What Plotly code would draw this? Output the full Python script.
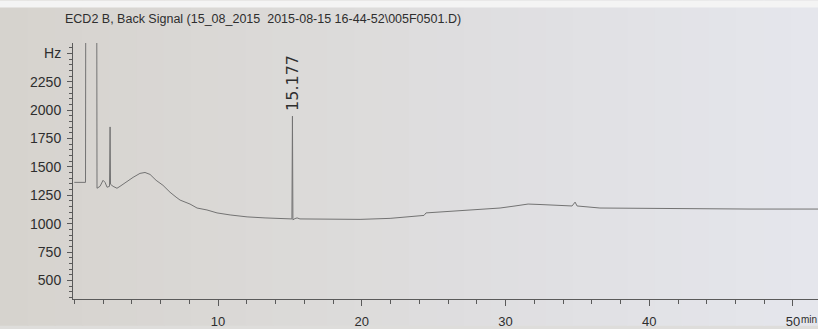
import plotly.graph_objects as go

# ECD2 B back signal trace (retention time in minutes, detector signal in Hz)
time_min = [
    0.0, 0.78, 0.80, 1.56, 1.58, 1.79, 2.00, 2.14, 2.28, 2.45, 2.49, 2.52,
    2.70, 2.97, 3.18, 3.67, 4.09, 4.57, 4.92, 5.27, 5.69, 6.17, 6.66, 7.08,
    7.36, 8.05, 8.54, 9.23, 9.93, 10.84, 12.02, 13.27, 14.80, 15.14, 15.177,
    15.21, 15.35, 15.50, 15.70, 17.79, 19.88, 21.97, 23.36, 24.33, 24.47,
    25.45, 26.84, 28.23, 29.62, 30.66, 31.57, 32.40, 33.80, 34.63, 34.84,
    34.98, 36.57, 40.05, 43.53, 47.01, 51.74,
]
signal_hz = [
    1364, 1364, 3200, 3200, 1312, 1329, 1382, 1364, 1321, 1329, 1852, 1347,
    1329, 1312, 1329, 1373, 1408, 1443, 1451, 1434, 1382, 1338, 1277, 1234,
    1208, 1173, 1138, 1121, 1095, 1077, 1060, 1051, 1042, 1042, 1947,
    1034, 1045, 1051, 1042, 1042, 1038, 1047, 1064, 1073, 1095,
    1103, 1116, 1125, 1138, 1156, 1173, 1169, 1164, 1156, 1190,
    1156, 1138, 1134, 1134, 1129, 1129,
]

# Axis ticks
y_tick_vals = [500, 750, 1000, 1250, 1500, 1750, 2000, 2250, 2500]
y_tick_text = ["500", "750", "1000", "1250", "1500", "1750", "2000", "2250", "Hz"]
x_tick_vals = [10, 20, 30, 40, 50]
x_tick_text = ["10", "20", "30", "40", "50"]

# Labelled peak
peak_rt = 15.177
peak_label = "15.177"
peak_label_y = 2243

title_text = "ECD2 B, Back Signal (15_08_2015  2015-08-15 16-44-52\\005F0501.D)"

SANS = "Liberation Sans, Arial, sans-serif"
INK = "#2e2e2e"
AXIS = "#5a5a5a"

fig = go.Figure()
fig.add_trace(go.Scatter(
    x=time_min, y=signal_hz, mode="lines",
    line=dict(color="#737373", width=1),
    hoverinfo="skip", showlegend=False,
))

# paper tone: warm grey on the left fading to a cool light grey on the right
left_rgb = (214, 211, 206)
right_rgb = (229, 230, 236)
n_bands = 30
x0_paper = -73 / 745
for i in range(n_bands):
    f = i / (n_bands - 1)
    r = round(left_rgb[0] + (right_rgb[0] - left_rgb[0]) * f)
    g = round(left_rgb[1] + (right_rgb[1] - left_rgb[1]) * f)
    b = round(left_rgb[2] + (right_rgb[2] - left_rgb[2]) * f)
    xa = x0_paper + (1 - x0_paper) * i / n_bands
    xb = x0_paper + (1 - x0_paper) * (i + 1) / n_bands
    fig.add_shape(type="rect", xref="paper", yref="paper",
                  x0=xa, x1=xb + 0.002, y0=-27 / 259, y1=1 + 43 / 259,
                  fillcolor=f"rgb({r},{g},{b})", line=dict(width=0), layer="below")
# light strip along the top edge
fig.add_shape(type="rect", xref="paper", yref="paper",
              x0=x0_paper, x1=1, y0=1 + 36 / 259, y1=1 + 43 / 259,
              fillcolor="#f4f4f4", line=dict(width=0), layer="below")

fig.add_annotation(
    text=title_text, xref="paper", yref="paper",
    x=-10 / 745, y=1 + 24 / 259, xanchor="left", yanchor="middle",
    showarrow=False, font=dict(family=SANS, size=12.5, color=INK),
)
fig.add_annotation(
    text=peak_label, x=peak_rt, y=peak_label_y, textangle=-90,
    showarrow=False, xanchor="center", yanchor="middle",
    font=dict(family="DejaVu Sans, sans-serif", size=16, color=INK),
)
fig.add_annotation(
    text="min", x=50, xref="x", yref="paper", y=0, xanchor="left", yanchor="top",
    xshift=6, yshift=-13, showarrow=False,
    font=dict(family=SANS, size=10, color=INK),
)

fig.update_layout(
    width=818, height=329,
    margin=dict(l=73, r=0, t=43, b=27, pad=0),
    paper_bgcolor="#dedddb",
    plot_bgcolor="rgba(0,0,0,0)",
    showlegend=False,
    xaxis=dict(
        range=[-0.09, 51.74], tickmode="array", tickvals=x_tick_vals,
        ticktext=x_tick_text, ticks="outside", ticklen=6, tickcolor=AXIS,
        tickwidth=1, showline=True, linecolor=AXIS, linewidth=1,
        showgrid=False, zeroline=False, ticklabelstandoff=4,
        tickfont=dict(family=SANS, size=13, color=INK),
        minor=dict(tickmode="linear", tick0=0, dtick=2, ticks="outside",
                   ticklen=4, tickcolor=AXIS, showgrid=False),
    ),
    yaxis=dict(
        range=[337, 2591], tickmode="array", tickvals=y_tick_vals,
        ticktext=y_tick_text, ticks="outside", ticklen=5, tickcolor=AXIS,
        tickwidth=1, showline=True, linecolor=AXIS, linewidth=1,
        showgrid=False, zeroline=False, ticklabelstandoff=3,
        tickfont=dict(family=SANS, size=14, color=INK),
        minor=dict(tickmode="linear", tick0=0, dtick=50, ticks="outside",
                   ticklen=3, tickcolor=AXIS, showgrid=False),
    ),
)

fig.write_html("out.html")
